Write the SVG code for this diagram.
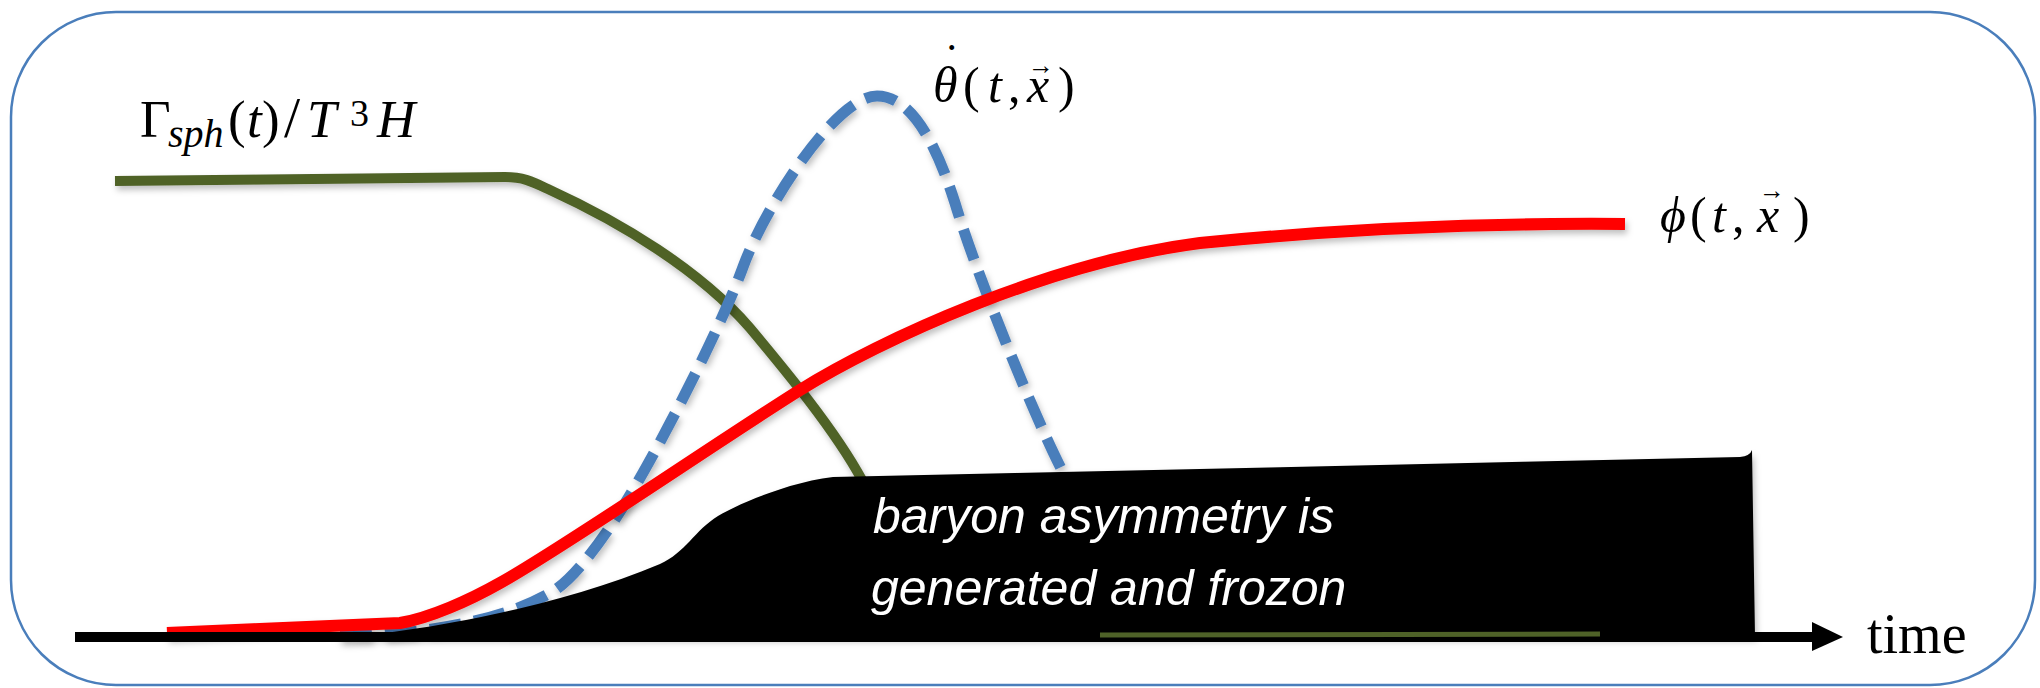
<svg xmlns="http://www.w3.org/2000/svg" width="2040" height="688" viewBox="0 0 2040 688">
<style>
.math{font-family:"Liberation Serif","DejaVu Serif",serif;fill:#000}
.it{font-style:italic}
.curve{fill:none;stroke-linecap:butt;stroke-linejoin:round}
.note{font-family:"Liberation Sans","Arial",sans-serif;font-style:italic;fill:#fff;font-size:50px}
</style>
<defs>
<filter id="sh" x="-5%" y="-5%" width="110%" height="120%">
<feDropShadow dx="2" dy="4" stdDeviation="3" flood-color="#000" flood-opacity="0.25"/>
</filter>
</defs>
<rect id="frame" x="11" y="12" width="2024" height="673" rx="105" ry="105" fill="#fff" stroke="#4A7EBB" stroke-width="2.5"/>

<g id="curves">
<path id="sphaleron" class="curve" filter="url(#sh)" stroke="#4F6228" stroke-width="10" d="M115 181 L505 177 C525 177 535 183 550 190 C620 222 700 270 750 328 C785 370 835 430 862 480"/>
<path id="thetadot" class="curve" filter="url(#sh)" stroke="#4A7EBB" stroke-width="11" stroke-dasharray="32 13" d="M340 636 C420 635 500 622 550 593 C575 580 610 530 633 490 C660 445 720 330 743 267 C763 211 835 96 877 96 C910 96 935 140 955 203 C975 270 1035 420 1067 480"/>
<path id="phi" class="curve" filter="url(#sh)" stroke="#FF0000" stroke-width="12" d="M167 633 L400 623 C430 618 470 600 500 583 C560 550 720 440 800 390 C880 340 1050 262 1200 243 C1350 228 1500 223 1625 224"/>
</g>

<g id="asymmetry">
<path filter="url(#sh)" fill="#000" d="M330 638 C420 633 560 606 660 564 C685 553 695 530 718 516 C740 503 790 482 833 477 L1740 457 Q1750 456 1752 450 L1755 637 Z"/>
<text class="note" x="873" y="533">baryon asymmetry is</text>
<text class="note" x="871" y="605">generated and frozon</text>
</g>

<g id="axis">
<line x1="75" y1="637" x2="1815" y2="637" stroke="#000" stroke-width="10"/>
<polygon points="1812,622 1843,637 1812,651" fill="#000"/>
<line x1="1100" y1="635" x2="1600" y2="634" stroke="#4F6228" stroke-width="5"/>
<text x="1867" y="653" font-family="Liberation Serif, serif" font-size="56">time</text>
</g>

<g id="label-sphaleron" class="math">
<text y="137" font-size="53"><tspan x="140">Γ</tspan><tspan class="it" x="168" y="147" font-size="40">sph</tspan><tspan x="228" y="137">(</tspan><tspan class="it" x="247">t</tspan><tspan x="262">)</tspan><tspan x="284" font-size="58">/</tspan><tspan class="it" x="307">T</tspan><tspan x="350" y="126" font-size="38">3</tspan><tspan class="it" x="377" y="137">H</tspan></text>
</g>

<g id="label-thetadot" class="math">
<text font-size="50"><tspan class="it" x="933" y="102">θ</tspan><tspan x="944" y="76" font-size="46">˙</tspan><tspan x="963" y="102">(</tspan><tspan class="it" x="988" y="102">t</tspan><tspan x="1008" y="102">,</tspan><tspan class="it" x="1027" y="102">x</tspan><tspan x="1028" y="74" font-size="26">→</tspan><tspan x="1058" y="102">)</tspan></text>
</g>

<g id="label-phi" class="math">
<text font-size="50"><tspan class="it" x="1660" y="232">ϕ</tspan><tspan x="1690" y="232">(</tspan><tspan class="it" x="1712" y="232">t</tspan><tspan x="1732" y="232">,</tspan><tspan class="it" x="1757" y="232">x</tspan><tspan x="1759" y="199" font-size="26">→</tspan><tspan x="1793" y="232">)</tspan></text>
</g>
</svg>
